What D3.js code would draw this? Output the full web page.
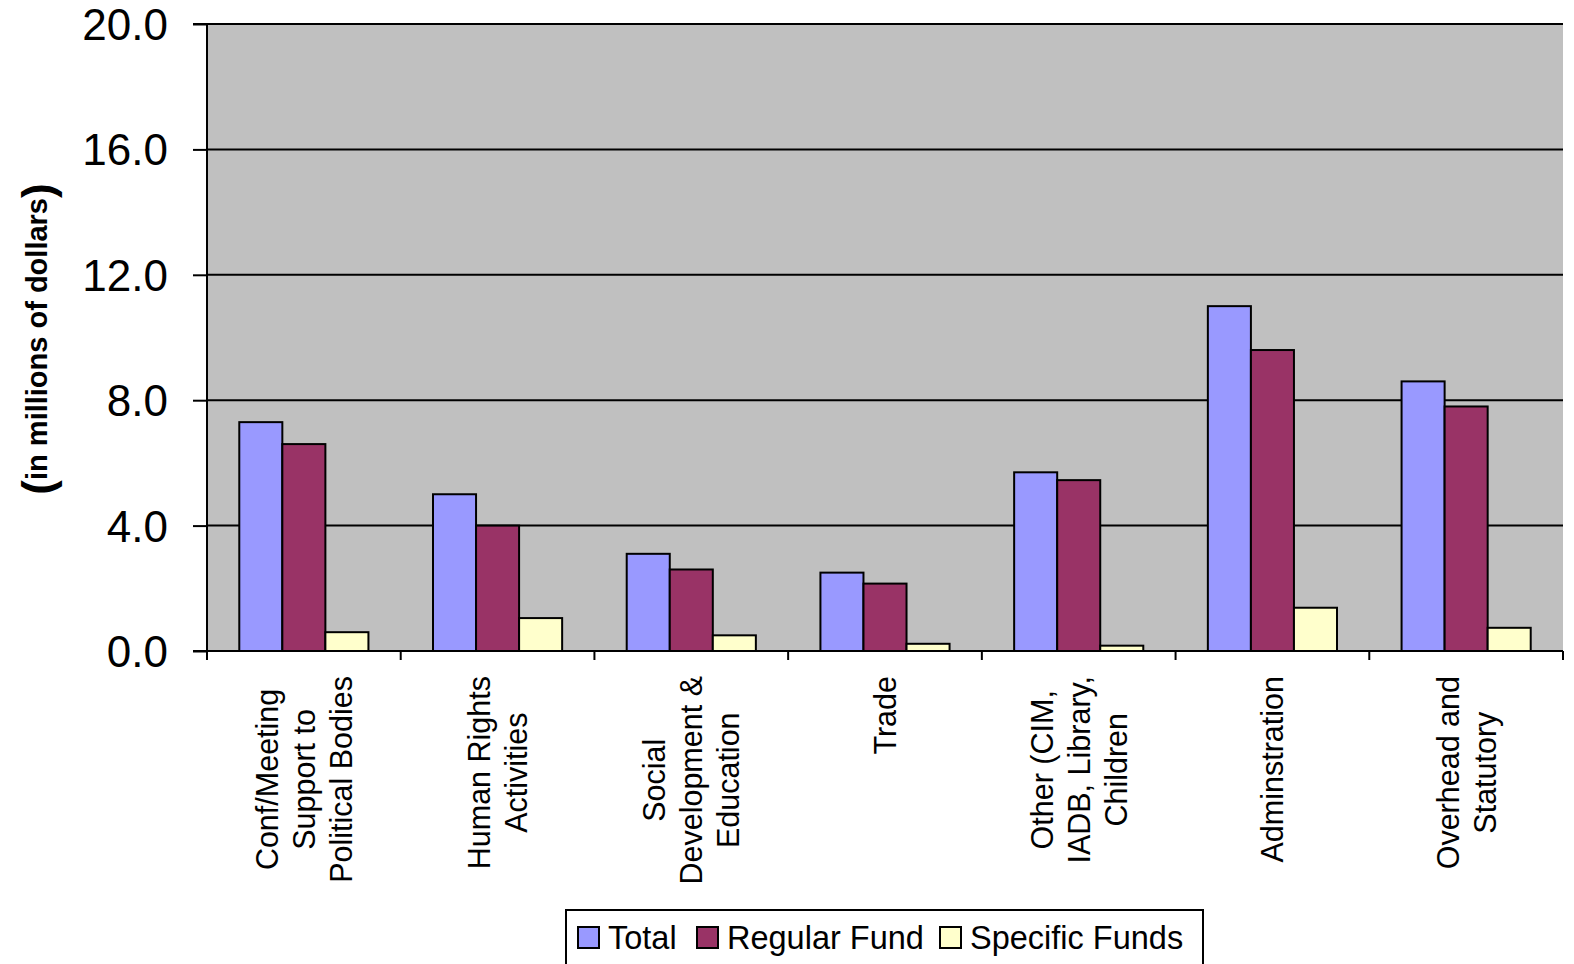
<!DOCTYPE html>
<html>
<head>
<meta charset="utf-8">
<script src="https://cdn.jsdelivr.net/npm/d3@7"></script>
<style>
  html, body { margin: 0; padding: 0; background: #fff; }
  svg { display: block; font-family: Arial, "Liberation Sans", sans-serif; }
</style>
</head>
<body>
<svg id="chart" width="1574" height="964"></svg>
<script>
const categories = [
  ["Conf/Meeting", "Support to", "Political Bodies"],
  ["Human Rights", "Activities"],
  ["Social", "Development &", "Education"],
  ["Trade"],
  ["Other (CIM,", "IADB, Library,", "Children"],
  ["Adminstration"],
  ["Overhead and", "Statutory"]
];
const seriesNames = ["Total", "Regular Fund", "Specific Funds"];
const totalValues    = [7.3, 5.0, 3.1, 2.5, 5.7, 11.0, 8.6];
const regularValues  = [6.6, 4.0, 2.6, 2.15, 5.45, 9.6, 7.8];
const specificValues = [0.6, 1.05, 0.5, 0.23, 0.17, 1.38, 0.74];
const seriesColors = ["#9999FF", "#993366", "#FFFFCC"];
const yTicks = [0, 4, 8, 12, 16, 20];

const series = [totalValues, regularValues, specificValues];

const svg = d3.select("#chart");
const pLeft = 207, pRight = 1563, pTop = 24, pBottom = 651;

const x = d3.scaleBand().domain(d3.range(categories.length)).range([pLeft, pRight]).paddingInner(0).paddingOuter(0);
const bw = x.bandwidth() / 4.5;
const xs = d3.scaleBand().domain(d3.range(series.length)).range([bw * 0.75, bw * 3.75]);
const y = d3.scaleLinear().domain([0, 20]).range([pBottom, pTop]);

// plot background
svg.append("rect").attr("x", pLeft).attr("y", pTop).attr("width", pRight - pLeft).attr("height", pBottom - pTop)
  .attr("fill", "#C0C0C0");

// gridlines
svg.append("g").selectAll("line").data(yTicks.filter(d => d > 0)).join("line")
  .attr("x1", pLeft).attr("x2", pRight).attr("y1", d => y(d)).attr("y2", d => y(d))
  .attr("stroke", "#000").attr("stroke-width", 2);

// bars
const groups = svg.append("g").selectAll("g").data(categories).join("g")
  .attr("transform", (d, i) => `translate(${x(i)},0)`);
groups.selectAll("rect").data((d, i) => series.map((s, j) => ({ j, v: s[i] }))).join("rect")
  .attr("x", d => xs(d.j)).attr("width", xs.bandwidth())
  .attr("y", d => y(d.v)).attr("height", d => y(0) - y(d.v))
  .attr("fill", d => seriesColors[d.j]).attr("stroke", "#000").attr("stroke-width", 2);

// y axis
const yAxis = d3.axisLeft(y).tickValues(yTicks).tickFormat(d3.format(".1f")).tickSize(14).tickPadding(25);
const ya = svg.append("g").attr("transform", `translate(${pLeft},0)`).call(yAxis);
ya.select(".domain").attr("stroke", "#000").attr("stroke-width", 2).attr("d", `M-14,${pTop}H0V${pBottom + 6}`);
ya.selectAll(".tick line").attr("stroke", "#000").attr("stroke-width", 2);
ya.selectAll(".tick text").attr("font-size", 44).attr("fill", "#000")
  .attr("font-family", "Arial, 'Liberation Sans', sans-serif").attr("dy", "0.35em");

// x axis
const xa = svg.append("g");
xa.append("line").attr("x1", pLeft - 14).attr("x2", pRight).attr("y1", pBottom).attr("y2", pBottom)
  .attr("stroke", "#000").attr("stroke-width", 2);
xa.selectAll("line.tk").data(d3.range(categories.length + 1)).join("line").attr("class", "tk")
  .attr("x1", i => pLeft + i * x.bandwidth()).attr("x2", i => pLeft + i * x.bandwidth())
  .attr("y1", pBottom).attr("y2", pBottom + 9).attr("stroke", "#000").attr("stroke-width", 2);

// category labels (rotated)
const lh = 37;
const labelTop = 676;
categories.forEach((lines, i) => {
  const cx = x(i) + x.bandwidth() / 2;
  const g = svg.append("g");
  const texts = lines.map((ln, k) => g.append("text").text(ln).attr("font-size", 30.5)
    .attr("text-anchor", "middle").attr("dominant-baseline", "central").attr("fill", "#000"));
  const maxLen = d3.max(texts, t => t.node().getComputedTextLength());
  const cy = labelTop + maxLen / 2;
  const n = lines.length;
  texts.forEach((t, k) => {
    const lx = cx + (k - (n - 1) / 2) * lh;
    t.attr("transform", `translate(${lx},${cy}) rotate(-90)`);
  });
});

// y axis title
const yt = svg.append("text").attr("transform", "translate(37,339) rotate(-90)")
  .attr("text-anchor", "middle").attr("dominant-baseline", "central").attr("font-weight", "bold").attr("fill", "#000");
yt.append("tspan").attr("font-size", 44).text("(");
yt.append("tspan").attr("font-size", 29).text("in millions of dollars");
yt.append("tspan").attr("font-size", 44).text(")");

// legend
const lg = svg.append("g");
lg.append("rect").attr("x", 566).attr("y", 910).attr("width", 637).attr("height", 60)
  .attr("fill", "#fff").attr("stroke", "#000").attr("stroke-width", 2);
const legendX = [578, 697, 940];
seriesNames.forEach((name, j) => {
  lg.append("rect").attr("x", legendX[j]).attr("y", 927).attr("width", 21).attr("height", 21)
    .attr("fill", seriesColors[j]).attr("stroke", "#000").attr("stroke-width", 2);
  lg.append("text").attr("x", legendX[j] + 30).attr("y", 938).attr("dominant-baseline", "central")
    .attr("font-size", 32.5).attr("fill", "#000").text(name);
});
</script>
</body>
</html>
